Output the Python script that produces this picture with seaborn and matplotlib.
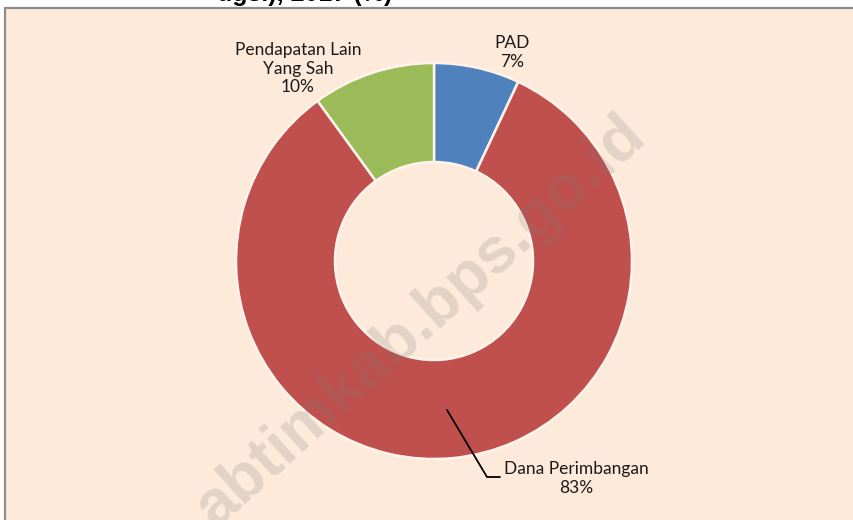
import matplotlib
matplotlib.use("Agg")
import matplotlib.pyplot as plt
from matplotlib.patches import Rectangle
from matplotlib.lines import Line2D
import seaborn as sns

sns.set_theme(style="white")
plt.rcParams["font.family"] = ["Lato", "DejaVu Sans"]

# data
categories = ["PAD", "Dana Perimbangan", "Pendapatan Lain\nYang Sah"]
shares = [7, 83, 10]
palette = ["#4F81BD", "#C0504D", "#9BBB59"]

BG = "#FDEADA"
W, H = 854, 520


def fx(px):
    return px / W


def fy(py):
    return 1 - py / H


def main():
    fig = plt.figure(figsize=(W / 100, H / 100), dpi=100, facecolor="white")

    # chart area with a grey frame on top and left
    fig.add_artist(Rectangle((fx(6), 0), 1 - fx(6), fy(8), transform=fig.transFigure,
                             facecolor=BG, edgecolor="none", zorder=0))
    fig.add_artist(Line2D([fx(5.5), 1], [fy(7.5), fy(7.5)], transform=fig.transFigure,
                          color="#8C8C8C", lw=1.6, zorder=1))
    fig.add_artist(Line2D([fx(5.5), fx(5.5)], [0, fy(7.5)], transform=fig.transFigure,
                          color="#8C8C8C", lw=1.6, zorder=1))

    # clipped title from the page above
    fig.text(fx(392), fy(1.5), "ugsi), 2017 (%)", ha="right", va="baseline",
             fontsize=18, fontweight="bold", color="black",
             family=["Liberation Sans", "DejaVu Sans"])

    cx, cy, r = 434, 261, 198
    ax = fig.add_axes([fx(cx - r), fy(cy + r), 2 * r / W, 2 * r / H])
    ax.set_facecolor("none")
    wedges, _ = ax.pie(shares, colors=palette, startangle=90, counterclock=False,
                       radius=1.0,
                       wedgeprops=dict(width=0.5, edgecolor="#FDF3EA", linewidth=1.8))
    ax.set_xlim(-1, 1)
    ax.set_ylim(-1, 1)
    ax.set_aspect("equal")
    ax.axis("off")

    def d(px, py):
        return ((px - cx) / r, (cy - py) / r)

    fs = 12.5
    ax.text(*d(512, 52.5), f"{categories[0]}\n{shares[0]}%", ha="center", va="center",
            fontsize=fs, color="#1a1a1a", linespacing=1.2)
    ax.text(*d(298, 68.5), f"{categories[2]}\n{shares[2]}%", ha="center", va="center",
            fontsize=fs, color="#1a1a1a", linespacing=1.2)
    ax.text(*d(576, 478.5), f"{categories[1]}\n{shares[1]}%", ha="center", va="center",
            fontsize=fs, color="#1a1a1a", linespacing=1.2)
    p0, p1, p2 = d(447, 410), d(487, 477), d(500, 477)
    ax.plot([p0[0], p1[0], p2[0]], [p0[1], p1[1], p2[1]], color="black", lw=1.3,
            clip_on=False, solid_joinstyle="miter")

    # watermark
    fig.text(fx(420), fy(322), "abtimkab.bps.go.id", rotation=42,
             rotation_mode="anchor", ha="center", va="center",
             fontsize=46, fontweight="bold", color=(0.48, 0.46, 0.46), alpha=0.2,
             family=["Liberation Sans", "DejaVu Sans"], zorder=5)

    fig.savefig("out.png", dpi=100, facecolor="white")


if __name__ == "__main__":
    main()
